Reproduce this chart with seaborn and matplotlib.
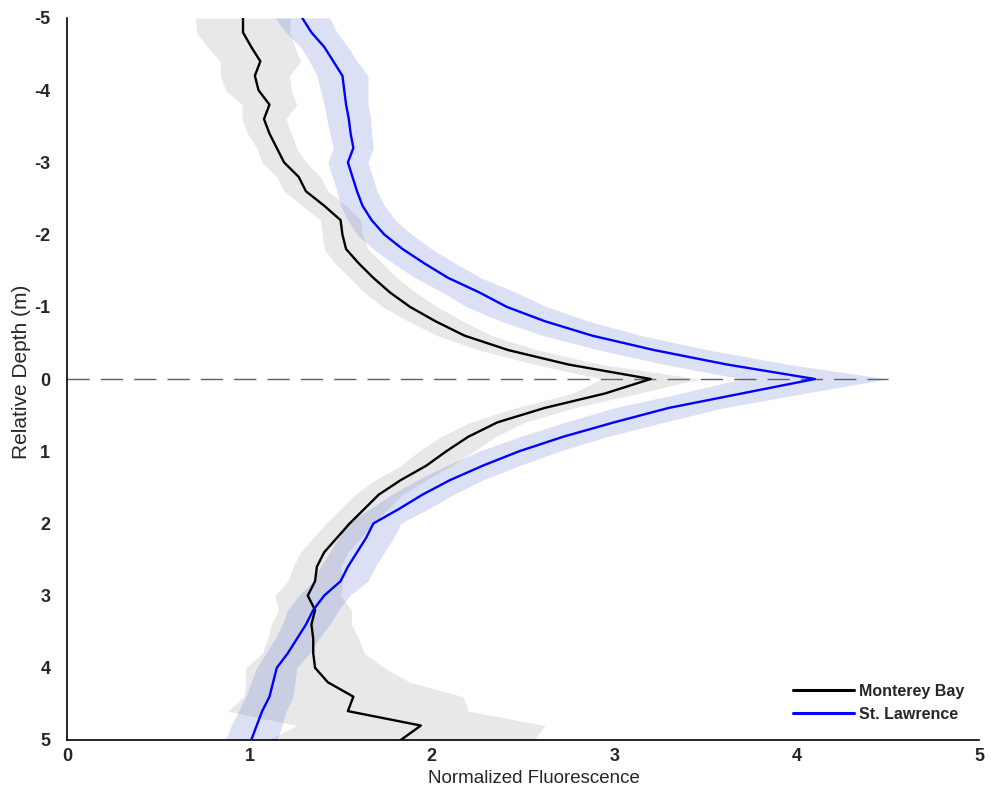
import numpy as np
import pandas as pd
import matplotlib
matplotlib.use("Agg")
import matplotlib.pyplot as plt
import seaborn as sns

# Relative depth grid (m), negative = above the fluorescence maximum
depth = [-5.0, -4.8, -4.6, -4.4, -4.2, -4.0, -3.8, -3.6, -3.4, -3.2, -3.0,
         -2.8, -2.6, -2.4, -2.2, -2.0, -1.8, -1.6, -1.4, -1.2, -1.0,
         -0.8, -0.6, -0.4, -0.2, 0.0, 0.2, 0.4, 0.6, 0.8, 1.0,
         1.2, 1.4, 1.6, 1.8, 2.0, 2.2, 2.4, 2.6, 2.8, 3.0,
         3.2, 3.4, 3.6, 3.8, 4.0, 4.2, 4.4, 4.6, 4.8, 5.0]

# Monterey Bay: mean normalized fluorescence and spread
mb_mean = [0.965, 0.965, 1.01, 1.06, 1.03, 1.05, 1.11, 1.08, 1.11, 1.15, 1.19,
           1.27, 1.31, 1.41, 1.50, 1.51, 1.53, 1.60, 1.68, 1.77, 1.88,
           2.02, 2.18, 2.42, 2.75, 3.20, 2.95, 2.62, 2.36, 2.20, 2.08,
           1.97, 1.83, 1.71, 1.63, 1.55, 1.48, 1.41, 1.37, 1.36, 1.32,
           1.36, 1.34, 1.35, 1.35, 1.36, 1.43, 1.57, 1.54, 1.94, 1.83]
mb_sd = [0.26, 0.255, 0.24, 0.22, 0.19, 0.18, 0.15, 0.12, 0.12, 0.11, 0.12,
         0.12, 0.12, 0.12, 0.11, 0.11, 0.12, 0.13, 0.13, 0.14, 0.15,
         0.15, 0.15, 0.16, 0.18, 0.27, 0.18, 0.16, 0.15, 0.15, 0.15,
         0.14, 0.14, 0.13, 0.13, 0.13, 0.13, 0.13, 0.13, 0.15, 0.18,
         0.20, 0.22, 0.25, 0.28, 0.38, 0.45, 0.60, 0.66, 0.68, 0.73]

# St. Lawrence: mean normalized fluorescence and spread
sl_mean = [1.29, 1.34, 1.41, 1.46, 1.51, 1.52, 1.53, 1.545, 1.555, 1.57, 1.54,
           1.565, 1.59, 1.62, 1.67, 1.74, 1.84, 1.96, 2.09, 2.26, 2.41,
           2.62, 2.88, 3.22, 3.62, 4.10, 3.70, 3.30, 3.00, 2.72, 2.48,
           2.28, 2.10, 1.95, 1.82, 1.68, 1.64, 1.59, 1.54, 1.50, 1.41,
           1.35, 1.31, 1.26, 1.21, 1.15, 1.13, 1.11, 1.07, 1.04, 1.01]
sl_sd = [0.15, 0.14, 0.13, 0.13, 0.14, 0.13, 0.12, 0.12, 0.115, 0.11, 0.11,
         0.11, 0.11, 0.12, 0.13, 0.15, 0.16, 0.17, 0.18, 0.20, 0.22,
         0.24, 0.27, 0.30, 0.34, 0.40, 0.34, 0.30, 0.27, 0.24, 0.22,
         0.20, 0.18, 0.17, 0.16, 0.15, 0.15, 0.15, 0.15, 0.15, 0.14,
         0.14, 0.13, 0.12, 0.12, 0.11, 0.12, 0.13, 0.13, 0.14, 0.14]

series_names = ["Monterey Bay", "St. Lawrence"]
line_colors = ["black", "#0000ff"]
band_colors = [(0.55, 0.55, 0.55, 0.20), (0.30, 0.40, 0.80, 0.20)]

x_ticks = [0, 1, 2, 3, 4, 5]
y_ticks = [-5, -4, -3, -2, -1, 0, 1, 2, 3, 4, 5]

sns.set_style("white")
plt.rcParams["font.family"] = ["Liberation Sans", "DejaVu Sans"]
plt.rcParams["axes.unicode_minus"] = False

df = pd.concat([
    pd.DataFrame({"depth": depth, "fluor": mb_mean, "sd": mb_sd, "site": series_names[0]}),
    pd.DataFrame({"depth": depth, "fluor": sl_mean, "sd": sl_sd, "site": series_names[1]}),
], ignore_index=True)

fig = plt.figure(figsize=(9.91, 7.93), dpi=100)
ax = fig.add_axes([67 / 991, 1 - 740 / 793, (979 - 67) / 991, (740 - 18) / 793])

# reference line at the depth of the maximum
ax.plot([0, max(np.array(sl_mean) + np.array(sl_sd))], [0, 0], color="#606060",
        lw=1.0, dashes=(16, 8), zorder=1)

# shaded spread bands
for name, bc in zip(series_names, band_colors):
    sub = df[df["site"] == name]
    ax.fill_betweenx(sub["depth"], sub["fluor"] - sub["sd"], sub["fluor"] + sub["sd"],
                     color=bc, lw=0, zorder=2)

sns.lineplot(data=df, x="fluor", y="depth", hue="site", palette=line_colors,
             hue_order=series_names, orient="y", sort=False, estimator=None,
             linewidth=1.7, ax=ax, zorder=3)

ax.set_xlim(0, 5)
ax.set_ylim(5, -5)
ax.set_xticks(x_ticks)
ax.set_yticks(y_ticks)
ax.set_xticklabels([str(t) for t in x_ticks], fontsize=13, fontweight="bold")
ax.set_yticklabels([str(t) for t in y_ticks], fontsize=13, fontweight="bold")
ax.tick_params(axis="both", direction="in", length=6, width=0.8, color="#333333")
ax.tick_params(axis="x", pad=6)
ax.tick_params(axis="y", pad=12)

for side in ["top", "right"]:
    ax.spines[side].set_visible(False)
for side in ["left", "bottom"]:
    ax.spines[side].set_color("black")
    ax.spines[side].set_linewidth(1.2)

ax.set_xlabel("Normalized Fluorescence", fontsize=13.5)
ax.set_ylabel("Relative Depth (m)", fontsize=15)
ax.xaxis.set_label_coords(0.512, -0.041)
ax.yaxis.set_label_coords(-0.040, 0.51)

leg = ax.legend(loc="upper left", frameon=False, handlelength=3.8,
                prop={"size": 11.5, "weight": "bold"}, borderaxespad=0.0,
                handletextpad=0.35, labelspacing=0.5, bbox_to_anchor=(0.789, 0.087))
for line in leg.get_lines():
    line.set_linewidth(2.2)

fig.savefig("out.png", dpi=100, facecolor="white")
